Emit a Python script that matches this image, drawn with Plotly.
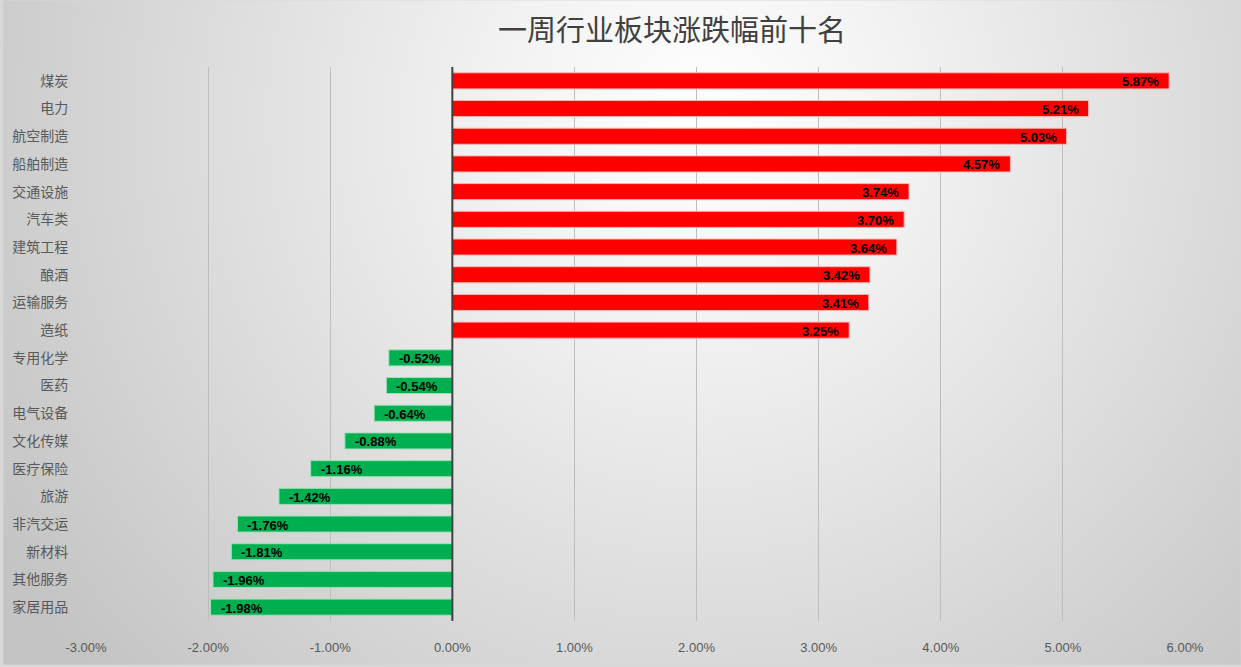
import base64
import plotly.graph_objects as go

categories = ["煤炭", "电力", "航空制造", "船舶制造", "交通设施", "汽车类", "建筑工程", "酿酒", "运输服务", "造纸",
              "专用化学", "医药", "电气设备", "文化传媒", "医疗保险", "旅游", "非汽交运", "新材料", "其他服务", "家居用品"]
values = [5.87, 5.21, 5.03, 4.57, 3.74, 3.70, 3.64, 3.42, 3.41, 3.25,
          -0.52, -0.54, -0.64, -0.88, -1.16, -1.42, -1.76, -1.81, -1.96, -1.98]
title_text = "一周行业板块涨跌幅前十名"
tick_vals = [-3, -2, -1, 0, 1, 2, 3, 4, 5, 6]

W, H = 1241, 667
L, R, T, B = 83, 56, 67, 44
pw, ph = W - L - R, H - T - B

colors = ["#FF0000" if v >= 0 else "#00B050" for v in values]
edge = ["#FFB4B4" if v >= 0 else "#9FE0B8" for v in values]

svg = (
    f"<svg xmlns='http://www.w3.org/2000/svg' width='{W}' height='{H}' viewBox='0 0 {W} {H}' preserveAspectRatio='none'>"
    "<defs><radialGradient id='g' gradientUnits='userSpaceOnUse' cx='700' cy='120' r='820'>"
    "<stop offset='0' stop-color='#ffffff'/><stop offset='0.25' stop-color='#f2f2f2'/>"
    "<stop offset='1' stop-color='#c4c4c4'/></radialGradient></defs>"
    f"<rect x='0' y='0' width='{W}' height='{H}' fill='url(#g)'/></svg>"
)
bg_src = "data:image/svg+xml;base64," + base64.b64encode(svg.encode()).decode()

label_font = dict(family="Liberation Sans Narrow, Liberation Sans, Arial", size=13, color="#000000", weight="bold")

fig = go.Figure()
fig.add_trace(go.Bar(
    x=values, y=categories, orientation="h",
    marker=dict(color=colors, line=dict(color=edge, width=1)),
    width=0.58, hoverinfo="x+y",
))

annotations = []
for c, v in zip(categories, values):
    annotations.append(dict(
        x=v, y=c, xref="x", yref="y", text=f"{v:.2f}%", showarrow=False,
        xanchor="right" if v >= 0 else "left", yanchor="middle",
        xshift=-8 if v >= 0 else 8, yshift=-1, font=label_font,
    ))

fig.update_layout(
    width=W, height=H,
    margin=dict(l=L, r=R, t=T, b=B),
    paper_bgcolor="#d8d8d8",
    plot_bgcolor="rgba(0,0,0,0)",
    title=dict(text=title_text, x=672 / W, xanchor="center", y=1 - 31 / H, yanchor="middle",
               font=dict(family="Noto Sans CJK SC", size=29, color="#404040")),
    showlegend=False,
    annotations=annotations,
    images=[dict(source=bg_src, xref="paper", yref="paper",
                 x=-L / pw, y=1 + T / ph, sizex=W / pw, sizey=H / ph,
                 xanchor="left", yanchor="top", sizing="stretch", layer="below")],
    shapes=[dict(type="line", xref="x", yref="paper", x0=0, x1=0, y0=0, y1=1,
                 line=dict(color="#404040", width=2), layer="above")],
)
fig.update_xaxes(
    range=[-3, 6], tickvals=tick_vals, ticktext=[f"{v:.2f}%" for v in tick_vals],
    showgrid=True, gridcolor="#bdbdbd", gridwidth=1,
    zeroline=False,
    ticks="outside", ticklen=14, tickcolor="rgba(0,0,0,0)",
    tickfont=dict(family="Liberation Sans Narrow, Liberation Sans, Arial", size=13, color="#595959"),
    showline=False, fixedrange=True,
)
fig.update_yaxes(
    range=[len(categories) - 0.5, -0.5], type="category",
    showgrid=False, showline=False, zeroline=False,
    ticks="outside", ticklen=14, tickcolor="rgba(0,0,0,0)",
    tickfont=dict(family="Noto Sans CJK SC", size=14, color="#595959"),
)

fig.write_html("out.html")
